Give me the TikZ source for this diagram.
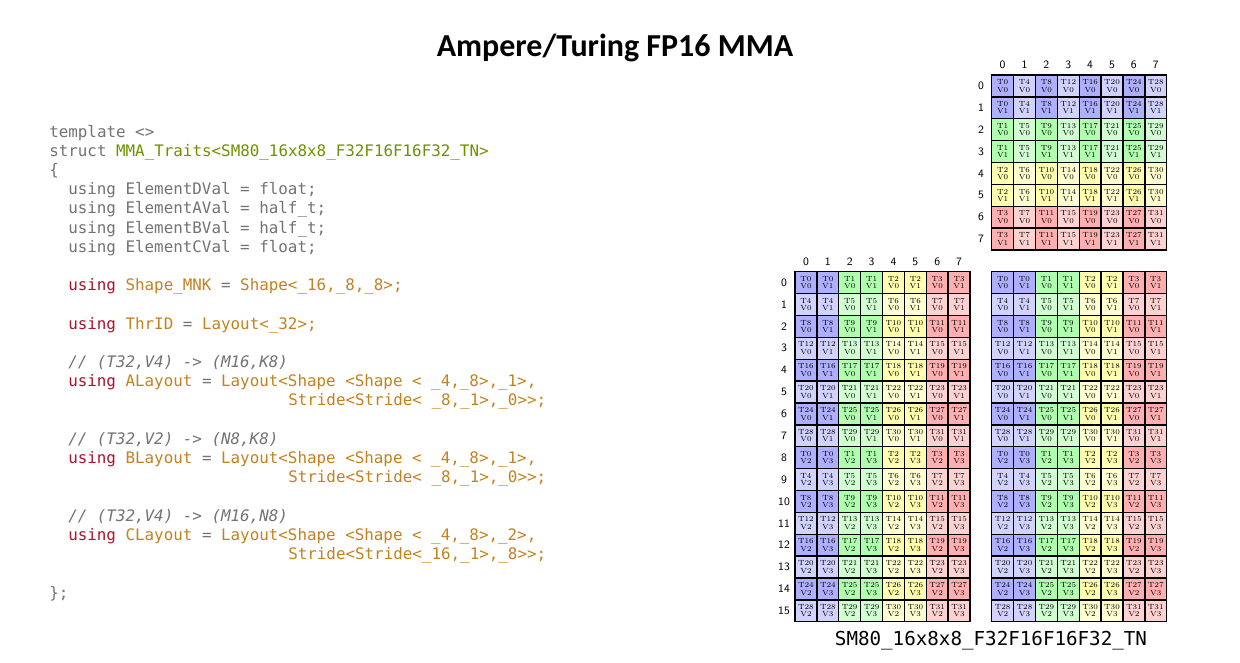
\documentclass[tikz,border=0pt]{standalone}
\usepackage{fontspec}
\usepackage{tikz}
\usetikzlibrary{positioning}
\newfontfamily\titlefont{Carlito}
\newfontfamily\codefont{DejaVu Sans Mono}[Ligatures=TeXOff]
\definecolor{CodeGray}{RGB}{115,115,115}
\definecolor{KeyRed}{RGB}{170,20,45}
\definecolor{IdOrange}{RGB}{195,130,30}
\definecolor{TypeGreen}{RGB}{110,145,0}
\definecolor{Dk0}{RGB}{175,175,255}\definecolor{Lt0}{RGB}{210,210,255}
\definecolor{Dk1}{RGB}{175,255,175}\definecolor{Lt1}{RGB}{210,255,210}
\definecolor{Dk2}{RGB}{255,255,175}\definecolor{Lt2}{RGB}{255,255,210}
\definecolor{Dk3}{RGB}{255,175,175}\definecolor{Lt3}{RGB}{255,210,210}
\newcommand{\kwd}[1]{\textcolor{KeyRed}{#1}}
\newcommand{\idn}[1]{\textcolor{IdOrange}{#1}}
\tikzset{
  cell/.style={draw=black,line width=1pt,minimum size=16.4pt,inner sep=0pt,
    font=\fontsize{5.6}{5.6}\selectfont,align=center},
  idx/.style={font=\sffamily\fontsize{8.5}{9}\selectfont,inner sep=0pt},
  code/.style={anchor=base west,inner sep=0pt,text=CodeGray,font=\codefont\fontsize{11.9}{14}\selectfont},
  note/.style={code,font=\codefont\itshape\fontsize{11.9}{14}\selectfont},
}

\begin{document}
\begin{tikzpicture}[x=0.75pt,y=-0.75pt]
\fill[white] (0,0) rectangle (1240,662);\useasboundingbox (0,0) rectangle (1240,662);
\node[font=\titlefont\bfseries\fontsize{24}{28}\selectfont] (title) at (615,48) {Ampere/Turing FP16 MMA};
% code listing
\node[code] (l0) at (49,137) {template <>};
\node[code] (l1) at (49,156.2) {struct \textcolor{TypeGreen}{MMA\_Traits<SM80\_16x8x8\_F32F16F16F32\_TN>}};
\node[code] (l2) at (49,175.4) {\{};
\node[code] (l3) at (68,194.6) {using ElementDVal = float;};
\node[code] (l4) at (68,213.8) {using ElementAVal = half\_t;};
\node[code] (l5) at (68,233) {using ElementBVal = half\_t;};
\node[code] (l6) at (68,252.2) {using ElementCVal = float;};
\node[code] (l8) at (68,290.6) {\kwd{using} \idn{Shape\_MNK} = \idn{Shape<\_16,\_8,\_8>;}};
\node[code] (l10) at (68,329) {\kwd{using} \idn{ThrID} = \idn{Layout<\_32>;}};
\node[note] (l12) at (68,367.4) {// (T32,V4) -> (M16,K8)};
\node[code] (l13) at (68,386.6) {\kwd{using} \idn{ALayout} = \idn{Layout<Shape <Shape < \_4,\_8>,\_1>,}};
\node[code] (l14) at (288,405.8) {\idn{Stride<Stride< \_8,\_1>,\_0>>;}};
\node[note] (l16) at (68,444.2) {// (T32,V2) -> (N8,K8)};
\node[code] (l17) at (68,463.4) {\kwd{using} \idn{BLayout} = \idn{Layout<Shape <Shape < \_4,\_8>,\_1>,}};
\node[code] (l18) at (288,482.6) {\idn{Stride<Stride< \_8,\_1>,\_0>>;}};
\node[note] (l20) at (68,521) {// (T32,V4) -> (M16,N8)};
\node[code] (l21) at (68,540.2) {\kwd{using} \idn{CLayout} = \idn{Layout<Shape <Shape < \_4,\_8>,\_2>,}};
\node[code] (l22) at (288,559.4) {\idn{Stride<Stride<\_16,\_1>,\_8>>;}};
\node[code] (l24) at (49,598) {\};};
% B matrix (top right)
\foreach \r in {0,...,7}{\foreach \c in {0,...,7}{
  \pgfmathtruncatemacro\thr{4*\c+int(\r/2)}
  \pgfmathtruncatemacro\val{mod(\r,2)}
  \pgfmathtruncatemacro\ci{int(\r/2)}
  \ifodd\c\def\sh{Lt}\else\def\sh{Dk}\fi
  \node[cell,fill=\sh\ci] (b-\r-\c) at ({991.7+(\c+.5)*21.875},{75+(\r+.5)*21.875}) {T\thr\\V\val};
}}
\foreach \i in {0,...,7}{
  \node[idx] (bc\i) at ({991.7+(\i+.5)*21.875},65) {\i};
  \node[idx] (br\i) at (981,{75+(\i+.5)*21.875}) {\i};
}
% A matrix (left) and C matrix (right)
\foreach \r in {0,...,15}{\foreach \c in {0,...,7}{
  \pgfmathtruncatemacro\thr{4*mod(\r,8)+int(\c/2)}
  \pgfmathtruncatemacro\val{mod(\c,2)+2*int(\r/8)}
  \pgfmathtruncatemacro\ci{int(\c/2)}
  \ifodd\r\def\sh{Lt}\else\def\sh{Dk}\fi
  \node[cell,fill=\sh\ci] (a-\r-\c) at ({795+(\c+.5)*21.875},{271.7+(\r+.5)*21.875}) {T\thr\\V\val};
  \node[cell,fill=\sh\ci] (c-\r-\c) at ({991.7+(\c+.5)*21.875},{271.7+(\r+.5)*21.875}) {T\thr\\V\val};
}}
\foreach \i in {0,...,7}\node[idx] (ac\i) at ({795+(\i+.5)*21.875},262) {\i};
\foreach \i in {0,...,15}\node[idx] (ar\i) at (784,{271.7+(\i+.5)*21.875}) {\i};
\node[font=\codefont\fontsize{14.4}{16}\selectfont] (lbl) at (991,641) {SM80\_16x8x8\_F32F16F16F32\_TN};
\end{tikzpicture}
\end{document}
